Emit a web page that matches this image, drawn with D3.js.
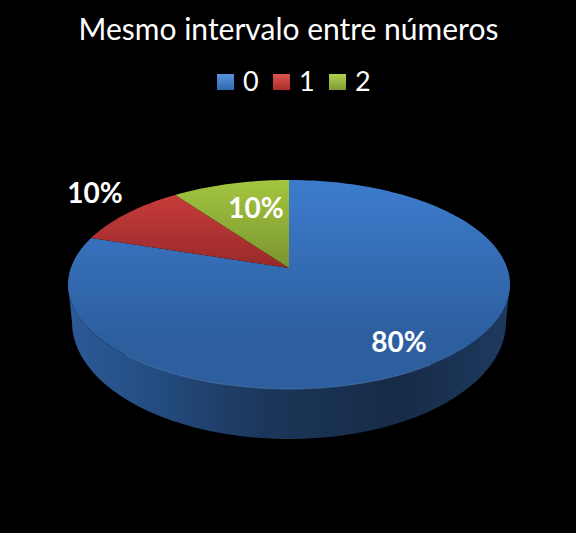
<!DOCTYPE html>
<html>
<head>
<meta charset="utf-8">
<script src="https://d3js.org/d3.v7.min.js"></script>
<style>
  html, body { margin: 0; padding: 0; background: #000; }
  svg { display: block; }
  text { font-family: Lato, "Open Sans", sans-serif; fill: #fff; }
</style>
</head>
<body>
<div id="chart"></div>
<script>
const titleText = "Mesmo intervalo entre números";
const categories = ["0", "1", "2"];
const values = [80, 10, 10];
const labels = ["80%", "10%", "10%"];

const width = 576;
const height = 533;

const topColors = [["#3d7ccd", "#2d5f9f"], ["#d0403d", "#98292a"], ["#a3c53f", "#7a9530"]];
const swatchColors = [["#5a93dd", "#2d68b0"], ["#de5350", "#a82d2b"], ["#b0d050", "#7f9c33"]];
const labelPos = [[399, 342], [95, 193], [256, 208]];
const legendX = [217, 273, 329];

// top face ellipse, apex sits above the ellipse centre because of the perspective
const cx = 289, cy = 284.5, rx = 221, ry = 104.5;
const tilt = -0.158;
// lower rim of the side wall
const lowCy = 322, lowRx = 217, lowRy = 117;

function project(angle, r) {
    const u = r * Math.sin(angle);
    const v = -r * Math.cos(angle);
    const d = 1 + tilt * v;
    return [
        cx + rx * u * Math.sqrt(1 - tilt * tilt) / d,
        cy + ry * (v + tilt) / d
    ];
}

const svg = d3.select("#chart").append("svg")
    .attr("width", width)
    .attr("height", height)
    .style("background", "#000");

const defs = svg.append("defs");

// one vertical gradient per slice, spanning the whole top face
topColors.forEach((c, i) => {
    const g = defs.append("linearGradient")
        .attr("id", "top" + i)
        .attr("gradientUnits", "userSpaceOnUse")
        .attr("x1", 0).attr("x2", 0)
        .attr("y1", cy - ry).attr("y2", cy + ry * (i === 0 ? 0.5 : -0.15));
    g.append("stop").attr("offset", 0).attr("stop-color", c[0]);
    g.append("stop").attr("offset", 1).attr("stop-color", c[1]);
});

swatchColors.forEach((c, i) => {
    const g = defs.append("linearGradient")
        .attr("id", "swatch" + i)
        .attr("x1", 0).attr("x2", 0).attr("y1", 0).attr("y2", 1);
    g.append("stop").attr("offset", 0).attr("stop-color", c[0]);
    g.append("stop").attr("offset", 1).attr("stop-color", c[1]);
});

const wallGrad = defs.append("linearGradient")
    .attr("id", "wall")
    .attr("gradientUnits", "userSpaceOnUse")
    .attr("x1", cx - rx).attr("x2", cx + rx)
    .attr("y1", 0).attr("y2", 0);
[[0, "#2c5a98"], [0.2, "#244c80"], [0.45, "#1b3659"], [0.75, "#172b48"], [1, "#1d3a5f"]].forEach(s => {
    wallGrad.append("stop").attr("offset", s[0]).attr("stop-color", s[1]);
});

const line = d3.line();

// side wall, front half only (t runs from the right extreme through the bottom to the left)
const steps = d3.range(90, 270.5, 2).map(d => d * Math.PI / 180);
const wallTop = steps.map(t => [cx + rx * Math.sin(t), cy - ry * Math.cos(t)]);
const wallLow = steps.map(t => [cx + lowRx * Math.sin(t), lowCy - lowRy * Math.cos(t)]);

svg.append("path")
    .attr("d", line(wallTop.concat(wallLow.slice().reverse())) + "Z")
    .attr("fill", "url(#wall)");

// top face slices
const pie = d3.pie().sort(null).value(d => d);
const arcs = pie(values);

svg.selectAll("path.slice")
    .data(arcs)
    .enter()
    .append("path")
    .attr("class", "slice")
    .attr("d", d => {
        const n = Math.max(2, Math.ceil((d.endAngle - d.startAngle) * 40));
        const rim = d3.range(n + 1).map(k => project(d.startAngle + (d.endAngle - d.startAngle) * k / n, 1));
        return line([project(0, 0)].concat(rim)) + "Z";
    })
    .attr("fill", (d, i) => `url(#top${i})`);

// thin highlight on the front edge of the top face
svg.append("path")
    .attr("d", line(wallTop.slice(25, 70)))
    .attr("fill", "none")
    .attr("stroke", "#5f93d0")
    .attr("stroke-opacity", 0.6)
    .attr("stroke-width", 0.8);

// title
svg.append("text")
    .attr("x", 288.5)
    .attr("y", 40)
    .attr("text-anchor", "middle")
    .style("font-size", "30px")
    .text(titleText);

// legend
const legend = svg.selectAll("g.legend")
    .data(categories)
    .enter()
    .append("g")
    .attr("class", "legend")
    .attr("transform", (d, i) => `translate(${legendX[i]}, 74)`);

legend.append("rect")
    .attr("width", 17)
    .attr("height", 16)
    .attr("fill", (d, i) => `url(#swatch${i})`);

legend.append("text")
    .attr("x", 26)
    .attr("y", 17)
    .style("font-size", "27px")
    .text(d => d);

// data labels
svg.selectAll("text.label")
    .data(labels)
    .enter()
    .append("text")
    .attr("class", "label")
    .attr("x", (d, i) => labelPos[i][0])
    .attr("y", (d, i) => labelPos[i][1] + 10)
    .attr("text-anchor", "middle")
    .style("font-size", "28px")
    .style("font-weight", "700")
    .text(d => d);
</script>
</body>
</html>
